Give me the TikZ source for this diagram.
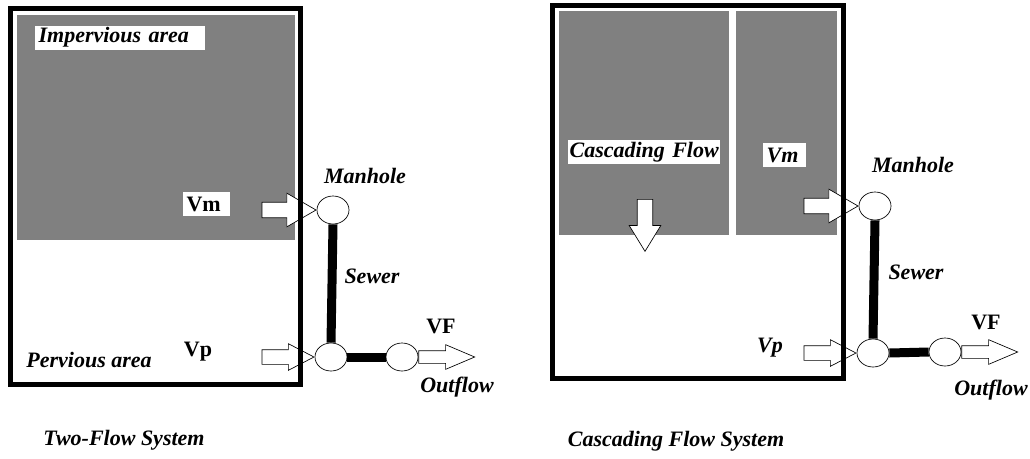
\documentclass[tikz,border=0pt]{standalone}
\usepackage{fontspec}
\setmainfont{Liberation Serif}
\usetikzlibrary{shapes.geometric,shapes.arrows,positioning}
\definecolor{areagray}{RGB}{128,128,128}

\tikzset{
  frame/.style={line width=3.75pt},
  area/.style={fill=areagray},
  lbl/.style={font=\bfseries\itshape\fontsize{16.5}{19}\selectfont,inner sep=1pt},
  lblup/.style={font=\bfseries\fontsize{16.5}{19}\selectfont,inner sep=1pt},
  tag/.style={fill=white,inner xsep=2.5pt,inner ysep=0pt,minimum height=18pt,align=left},
  manhole/.style={draw,ellipse,line width=0.5pt,fill=white,minimum width=24pt,minimum height=21pt,inner sep=0pt},
  sewer/.style={line width=6.75pt},
  flow/.style={draw,single arrow,fill=white,line width=0.5pt,inner xsep=0pt},
  bigflow/.style={flow,minimum height=40.5pt,inner ysep=5.6pt,single arrow head extend=6.75pt,single arrow tip angle=60},
  sideflow/.style={flow,minimum height=39pt,inner ysep=5.25pt,single arrow head extend=4.5pt,single arrow tip angle=55},
  outflow/.style={flow,minimum height=42pt,inner ysep=4.5pt,single arrow head extend=4.5pt,single arrow tip angle=46},
  downflow/.style={flow,minimum height=39pt,inner xsep=5.6pt,inner ysep=0pt,single arrow head extend=6pt,single arrow tip angle=63,shape border rotate=270}
}

\begin{document}
\begin{tikzpicture}[x=0.75pt,y=-0.75pt]
\useasboundingbox (0,0) rectangle (1030,458);

% two-flow system
\fill[area] (17,15) rectangle (295,240);
\node[lbl,tag,text width=122pt,anchor=west] (imp) at (35,37.5) {Impervious area};
\node[lblup,tag,text width=30pt,anchor=west] (vmtagA) at (183,204) {Vm};
\node[manhole] (mhA) at (333,210) {};
\node[manhole] (jnA) at (331,357) {};
\node[manhole] (outA) at (402,357) {};
\draw[sewer] (mhA.south) -- (jnA.north);
\draw[sewer] (jnA.east) -- (outA.west);
\node[bigflow,anchor=tip] (vmA) at (mhA.west) {};
\node[sideflow,anchor=tip] (vpA) at (jnA.west) {};
\node[outflow,anchor=tail] (vfA) at (outA.east) {};
\draw[frame] (10,8) rectangle (300,384);
\node[lbl] (mhlblA) at (365,176) {Manhole};
\node[lbl] (swlblA) at (372,276) {Sewer};
\node[lblup] (vflblA) at (441,326) {VF};
\node[lbl] (oflblA) at (457,387) {Outflow};
\node[lblup] (vplblA) at (198,352) {Vp};
\node[lbl] (perv) at (89,360) {Pervious area};
\node[lbl] (titleA) at (124,440) {Two-Flow System};

% cascading flow system
\fill[area] (559,11) rectangle (729,235);
\fill[area] (736,11) rectangle (837,235);
\node[lbl,tag,inner xsep=1pt,text width=112pt,anchor=west] (casc) at (568,152) {Cascading Flow};
\node[lbl,tag,text width=27pt,anchor=west] (vmtagB) at (763,155) {Vm};
\node[downflow,anchor=tail] (cascArr) at (645,199) {};
\node[manhole] (mhB) at (875,206) {};
\node[manhole] (jnB) at (873,353) {};
\node[manhole] (outB) at (945,352) {};
\draw[sewer] (mhB.south) -- (jnB.north);
\draw[sewer] (jnB.east) -- (outB.west);
\node[bigflow,anchor=tip] (vmB) at (mhB.west) {};
\node[sideflow,anchor=tip] (vpB) at (jnB.west) {};
\node[outflow,anchor=tail] (vfB) at (outB.east) {};
\draw[frame] (552,5) rectangle (843,378);
\node[lbl] (mhlblB) at (913,165) {Manhole};
\node[lbl] (swlblB) at (916,272) {Sewer};
\node[lblup] (vflblB) at (986,322) {VF};
\node[lbl] (oflblB) at (991,390) {Outflow};
\node[lbl] (vplblB) at (770,348) {Vp};
\node[lbl] (titleB) at (676,441) {Cascading Flow System};
\end{tikzpicture}
\end{document}
